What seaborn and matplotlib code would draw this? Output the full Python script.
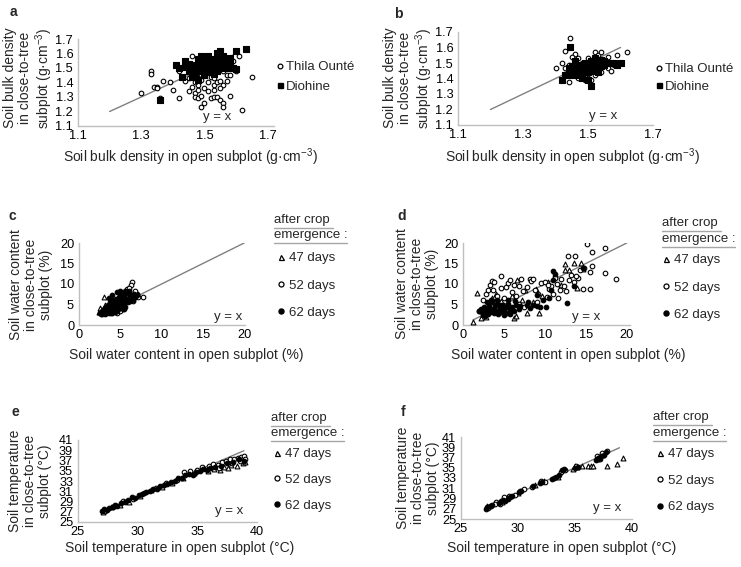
import matplotlib
matplotlib.use("Agg")
import matplotlib.pyplot as plt
import seaborn as sns
from matplotlib.lines import Line2D

# ---------------- data ----------------
# Panel a : soil bulk density (open vs close-to-tree)
a_thila = [(1.30,1.33),(1.33,1.48),(1.33,1.46),(1.34,1.37),(1.35,1.37),(1.35,1.36),(1.37,1.41),
           (1.36,1.29),(1.39,1.40),(1.40,1.35),(1.42,1.29),(1.42,1.48),(1.44,1.41),(1.45,1.43),
           (1.46,1.58),(1.46,1.37),(1.45,1.34),(1.47,1.33),(1.47,1.30),(1.48,1.38),(1.48,1.35),
           (1.48,1.29),(1.49,1.31),(1.50,1.36),(1.49,1.45),(1.47,1.45),(1.49,1.23),(1.50,1.26),
           (1.52,1.29),(1.53,1.30),(1.54,1.30),(1.55,1.28),(1.56,1.26),(1.56,1.23),(1.52,1.44),
           (1.53,1.38),(1.54,1.40),(1.55,1.41),(1.56,1.38),(1.53,1.35),(1.57,1.45),(1.58,1.45),
           (1.58,1.31),(1.61,1.58),(1.62,1.21),(1.65,1.44),(1.59,1.55),(1.60,1.48),(1.58,1.50),
           (1.52,1.50),(1.50,1.47),(1.55,1.52),(1.56,1.48),(1.54,1.56),(1.57,1.55),(1.51,1.40),
           (1.49,1.42),(1.53,1.43),(1.47,1.40),(1.48,1.43),(1.51,1.34),(1.55,1.36),(1.46,1.47),
           (1.57,1.41)]
a_diohine = [(1.41,1.52),(1.42,1.50),(1.43,1.44),(1.44,1.55),(1.45,1.53),(1.45,1.48),(1.46,1.50),
             (1.47,1.52),(1.47,1.46),(1.48,1.48),(1.48,1.56),(1.49,1.53),(1.49,1.50),(1.50,1.47),
             (1.50,1.55),(1.51,1.52),(1.51,1.58),(1.52,1.55),(1.52,1.50),(1.53,1.56),(1.53,1.52),
             (1.54,1.60),(1.54,1.54),(1.55,1.57),(1.55,1.50),(1.56,1.55),(1.56,1.58),(1.57,1.54),
             (1.58,1.57),(1.59,1.50),(1.60,1.62),(1.63,1.63),(1.58,1.55),(1.55,1.62),(1.36,1.28),
             (1.46,1.44),(1.48,1.42),(1.50,1.45),(1.52,1.47),(1.54,1.48),(1.44,1.51),(1.57,1.50),
             (1.60,1.49),(1.53,1.46),(1.49,1.58)]

# Panel b : soil bulk density, second sampling
b_thila = [(1.40,1.47),(1.42,1.50),(1.43,1.47),(1.43,1.58),(1.44,1.38),(1.445,1.66),(1.46,1.56),
           (1.46,1.52),(1.45,1.45),(1.47,1.40),(1.48,1.40),(1.49,1.42),(1.48,1.50),(1.50,1.46),
           (1.52,1.57),(1.53,1.55),(1.54,1.57),(1.54,1.44),(1.56,1.47),(1.57,1.45),(1.59,1.55),
           (1.59,1.50),(1.62,1.57),(1.50,1.53),(1.51,1.49),(1.52,1.42),(1.47,1.47),(1.46,1.43),
           (1.44,1.49),(1.55,1.51),(1.58,1.49),(1.51,1.39),(1.49,1.39),(1.53,1.45),(1.50,1.40),
           (1.45,1.54),(1.52,1.52),(1.47,1.53),(1.43,1.43),(1.56,1.54)]
b_diohine = [(1.42,1.39),(1.43,1.42),(1.44,1.47),(1.445,1.60),(1.45,1.48),(1.46,1.45),(1.47,1.49),
             (1.48,1.47),(1.48,1.44),(1.49,1.50),(1.49,1.46),(1.50,1.48),(1.50,1.44),(1.51,1.51),
             (1.51,1.47),(1.52,1.49),(1.52,1.45),(1.53,1.50),(1.53,1.47),(1.54,1.52),(1.54,1.48),
             (1.55,1.49),(1.56,1.50),(1.57,1.50),(1.58,1.50),(1.59,1.49),(1.60,1.50),(1.51,1.35),
             (1.50,1.39),(1.48,1.40),(1.46,1.51),(1.47,1.42),(1.52,1.53),(1.55,1.51),(1.53,1.44),
             (1.45,1.42)]

# Panel c : soil water content (%), first site
c_47 = [(3.0,6.9),(2.4,3.2),(2.6,4.2),(3.2,5.0),(3.7,4.6),(4.3,5.4),(4.9,5.5),(5.5,6.5),
        (6.2,7.2),(3.5,3.4),(4.1,3.8),(5.2,5.0),(6.4,6.5),(2.9,3.0)]
c_52 = [(6.4,10.6),(6.3,9.8),(7.8,6.9),(7.0,7.6),(6.8,8.2),(5.8,8.8),(3.3,2.9),(4.6,3.0),
        (5.5,3.8),(6.5,5.8),(2.8,2.6),(7.2,6.8),(6.0,9.0),(4.0,2.9),(5.0,3.4)]
c_62 = [(2.5,3.0),(2.8,3.5),(3.0,4.0),(3.2,3.2),(3.3,4.5),(3.5,3.8),(3.5,5.0),(3.6,3.0),(3.8,4.2),
        (3.8,5.5),(4.0,3.5),(4.0,4.8),(4.1,6.0),(4.2,4.0),(4.3,5.2),(4.4,3.2),(4.5,4.5),(4.5,6.3),
        (4.6,5.5),(4.7,3.8),(4.8,5.0),(4.9,6.8),(5.0,4.2),(5.0,5.8),(5.1,7.5),(5.2,4.8),(5.3,6.2),
        (5.4,5.2),(5.5,7.0),(5.6,4.5),(5.7,6.0),(5.8,7.8),(5.9,5.5),(6.0,6.5),(6.1,8.0),(6.2,5.8),
        (6.3,7.0),(6.5,6.2),(6.6,7.5),(6.8,6.8),(7.0,7.2),(3.9,3.0),(4.6,3.4),(5.3,4.0),(3.1,2.8),
        (2.7,2.6),(3.4,4.2),(4.2,5.6),(5.6,8.2),(6.0,8.4),(5.4,6.8),(4.8,6.2),(4.0,7.2),(4.6,8.0),
        (5.0,8.3),(3.6,6.5)]

# Panel d : soil water content (%), second site
d_47 = [(1.2,0.8),(1.7,7.8),(2.2,1.8),(2.8,2.0),(3.5,6.5),(4.0,7.5),(5.0,5.0),(6.2,1.8),(6.0,7.0),
        (7.2,6.0),(7.8,3.0),(8.5,5.5),(9.6,7.0),(10.4,10.5),(11.2,12.5),(12.4,15.0),(12.4,13.5),
        (13.0,13.5),(13.5,15.1),(14.4,15.1),(14.6,13.7),(13.9,9.0),(7.6,8.6),(8.9,8.8),(6.5,2.1),
        (5.4,4.6),(12.0,9.8),(4.6,5.9),(9.3,3.0),(6.6,11.0)]
d_52 = [(2.0,3.5),(2.5,6.0),(2.8,7.5),(3.0,8.5),(3.3,9.8),(3.5,10.8),(3.7,8.6),(3.8,10.5),(4.2,7.0),
        (4.6,12.0),(4.6,9.0),(5.0,6.5),(5.2,9.2),(5.5,10.2),(5.7,11.0),(6.0,8.0),(6.2,9.7),(6.5,7.0),
        (6.8,9.6),(7.1,11.2),(7.3,8.2),(7.8,9.2),(8.2,11.2),(8.3,10.7),(8.6,11.1),(8.8,8.5),
        (9.2,7.5),(9.5,10.3),(10.0,10.5),(10.2,6.8),(10.5,8.8),(10.8,9.6),(11.0,7.5),(11.2,11.5),
        (11.5,10.0),(11.8,8.6),(12.0,11.2),(12.3,9.5),(12.6,8.2),(13.0,11.0),(13.2,12.2),
        (13.5,10.5),(13.7,16.8),(14.0,11.5),(14.3,13.5),(14.6,8.8),(15.2,19.8),(15.7,17.8),
        (15.5,13.0),(15.8,14.5),(15.5,8.8),(17.3,18.8),(17.4,12.7),(18.7,11.2),(12.8,16.8),
        (4.8,4.5),(3.2,3.5),(5.8,4.0),(6.8,5.2),(2.6,2.8),(9.0,5.5),(7.5,4.5),(11.6,6.5),
        (13.8,12.0),(14.8,13.8),(10.4,9.8)]
d_62 = [(2.0,3.5),(2.2,4.0),(2.4,2.5),(2.5,3.0),(2.6,4.5),(2.8,3.5),(3.0,2.8),(3.0,4.2),(3.2,5.0),
        (3.3,3.2),(3.5,4.0),(3.6,5.5),(3.8,2.9),(3.9,4.6),(4.0,3.5),(4.2,5.2),(4.3,2.6),(4.5,4.0),
        (4.6,3.2),(4.8,5.0),(5.0,3.6),(5.0,2.5),(5.2,4.4),(5.4,3.0),(5.5,5.2),(5.7,3.8),(5.8,2.8),
        (6.0,4.5),(6.2,3.4),(6.5,5.0),(6.8,3.9),(7.0,4.6),(2.3,3.2),(2.9,5.5),(3.4,6.2),(4.1,6.0),
        (7.8,4.8),(8.2,4.2),(8.6,5.0),(9.0,4.6),(9.4,4.4),(9.8,6.0),(10.1,4.4),(10.5,6.5),
        (11.0,13.2),(11.0,11.0),(11.2,12.5),(12.7,5.4),(10.8,8.5),(9.0,7.3),(14.6,14.0),(13.5,9.5),
        (8.0,5.5),(5.5,6.2),(6.4,5.8),(2.7,2.2),(3.7,3.6),(4.4,4.8)]

# Panel e : soil temperature (deg C), first site
e_47 = [(27.1,27.0),(27.8,27.9),(28.5,28.3),(29.3,29.0),(30.2,30.0),(31.1,31.2),(32.0,31.8),
        (32.9,32.7),(33.8,33.5),(34.7,34.6),(35.6,35.5),(36.4,35.4),(37.2,35.8),(37.8,36.2),
        (38.3,36.0),(38.8,36.5),(39.0,36.8),(36.9,35.2),(37.6,35.5),(35.9,34.9)]
e_52 = [(27.3,27.1),(28.0,28.2),(28.8,29.1),(29.6,29.5),(30.5,30.6),(31.5,31.7),(32.4,32.6),
        (33.3,33.2),(33.9,34.8),(34.4,34.9),(35.0,35.2),(35.4,35.8),(36.0,36.0),(36.3,36.4),
        (36.7,36.2),(37.1,36.7),(37.4,37.0),(37.7,37.3),(38.1,37.2),(38.4,37.5),(38.7,37.6),
        (38.9,37.8),(39.0,37.2),(36.8,35.6),(37.9,36.6),(38.6,36.9)]
e_62 = [(27.0,27.2),(27.2,27.5),(27.4,27.3),(27.6,27.8),(27.9,28.0),(28.1,28.4),(28.3,28.2),
        (28.6,28.8),(28.9,29.0),(29.2,29.3),(29.5,29.8),(29.8,29.6),(30.1,30.2),(30.4,30.5),
        (30.7,30.9),(31.0,31.0),(31.3,31.4),(31.6,31.5),(31.9,32.0),(32.2,32.3),(32.5,32.4),
        (32.8,32.9),(33.1,33.0),(33.4,33.6),(33.7,33.5),(34.0,34.2),(34.3,34.4),(34.6,34.2),
        (34.9,34.8),(35.2,35.0),(35.5,35.3),(35.8,35.2),(36.1,35.6),(36.5,35.8),(37.0,36.0),
        (37.5,36.5),(38.0,36.8),(38.5,37.2),(38.9,37.0)]

# Panel f : soil temperature (deg C), second site
f_47 = [(27.3,27.6),(28.6,28.3),(29.0,29.1),(30.0,30.0),(31.5,31.6),(32.3,32.4),(33.5,33.2),
        (34.8,34.8),(35.0,35.4),(35.2,35.1),(35.6,35.3),(36.1,35.4),(36.4,35.3),(36.6,35.3),
        (37.8,35.4),(38.7,35.8),(39.2,36.9),(36.9,36.8),(37.4,37.4)]
f_52 = [(27.4,27.2),(27.6,27.5),(28.1,28.3),(28.4,28.0),(28.8,29.2),(29.2,29.4),(29.7,29.6),
        (30.2,30.5),(30.5,30.8),(31.2,31.2),(32.0,32.5),(32.4,32.2),(33.2,33.0),(33.8,34.2),
        (34.1,34.6),(35.1,35.4),(36.9,37.2),(37.4,37.8),(37.8,38.3),(37.1,36.9),(28.0,27.9)]
f_62 = [(27.2,27.0),(27.3,27.4),(27.5,27.6),(27.7,27.8),(28.3,28.2),(28.5,28.5),(28.7,28.8),
        (28.9,28.6),(29.1,29.0),(29.3,29.3),(29.5,29.4),(30.1,30.2),(30.3,30.4),(31.3,31.4),
        (31.9,32.1),(32.1,32.3),(33.0,32.8),(33.3,33.2),(33.6,33.6),(33.9,34.5),(34.0,34.8),
        (35.0,35.0),(35.3,35.2),(36.8,36.6),(37.0,37.0),(37.3,37.2),(37.5,37.5),(37.7,38.0),
        (37.2,36.8)]

# 1:1 reference line extents
line_a = [1.2, 1.6]
line_b = [1.2, 1.6]
line_c = [2.3, 20]
line_d = [1.2, 20]
line_e = [27.0, 38.9]
line_f = [27.1, 38.9]

bd_ticks_x = [1.1, 1.3, 1.5, 1.7]
bd_ticks_y = [1.1, 1.2, 1.3, 1.4, 1.5, 1.6, 1.7]
swc_ticks = [0, 5, 10, 15, 20]
temp_ticks_x = [25, 30, 35, 40]
temp_ticks_y = [25, 27, 29, 31, 33, 35, 37, 39, 41]

site_labels = ["Thila Ounté", "Diohine"]
day_labels = ["47 days", "52 days", "62 days"]

# ---------------- style ----------------
sns.set_style("white")
plt.rcParams["font.family"] = ["Liberation Sans", "DejaVu Sans"]
plt.rcParams["mathtext.fontset"] = "custom"
plt.rcParams["mathtext.rm"] = "Liberation Sans"
plt.rcParams["mathtext.it"] = "Liberation Sans:italic"
plt.rcParams["mathtext.bf"] = "Liberation Sans:bold"
plt.rcParams["mathtext.default"] = "regular"

W, H = 741, 567
fig = plt.figure(figsize=(W / 100, H / 100), dpi=100)


def fx(px):
    return px / W


def fy(py):
    return 1 - py / H


def make_axes(left, right, top, bottom):
    return fig.add_axes([fx(left), fy(bottom), (right - left) / W, (bottom - top) / H])


SPINE = "#bfbfbf"
LINEC = "#808080"
TICK_FS = 9.2


def style_axes(ax, xlim, ylim, xt, yt, xfmt, yfmt):
    ax.set_xlim(*xlim)
    ax.set_ylim(*ylim)
    ax.set_xticks(xt)
    ax.set_yticks(yt)
    ax.set_xticklabels([xfmt.format(v) for v in xt])
    ax.set_yticklabels([yfmt.format(v) for v in yt])
    for s in ["top", "right"]:
        ax.spines[s].set_visible(False)
    for s in ["left", "bottom"]:
        ax.spines[s].set_color(SPINE)
        ax.spines[s].set_linewidth(1.0)
    ax.tick_params(axis="both", length=0, labelsize=TICK_FS, colors="black")
    ax.tick_params(axis="y", pad=3.5)
    ax.tick_params(axis="x", pad=3)
    ax.set_facecolor("none")


def scatter(ax, pts, marker, face, size):
    xs = [p[0] for p in pts]
    ys = [p[1] for p in pts]
    sns.scatterplot(x=xs, y=ys, ax=ax, marker=marker, s=size, color=face,
                    edgecolor="black", linewidth=0.8, legend=False, zorder=3)


def one_to_one(ax, ext):
    sns.lineplot(x=ext, y=ext, ax=ax, color=LINEC, linewidth=1.0, zorder=2)


def labels(ax, xlabel, xc, yl_text, yc):
    ax.set_xlabel(xlabel, fontsize=10)
    ax.xaxis.set_label_coords(fx(xc[0]), fy(xc[1]), transform=fig.transFigure)
    ax.xaxis.label.set_verticalalignment("center")
    ax.set_ylabel(yl_text, fontsize=10, linespacing=1.1)
    ax.yaxis.set_label_coords(fx(yc[0]), fy(yc[1]), transform=fig.transFigure)
    ax.yaxis.label.set_verticalalignment("center")
    ax.yaxis.label.set_horizontalalignment("center")


def site_legend(ax, left_px, top_px, spacing):
    h = [Line2D([], [], linestyle="none", marker="o", markersize=3.4, markerfacecolor="white",
                markeredgecolor="black", markeredgewidth=0.9),
         Line2D([], [], linestyle="none", marker="s", markersize=3.6, markerfacecolor="black",
                markeredgecolor="black")]
    ax.legend(h, site_labels, loc="upper left", bbox_to_anchor=(fx(left_px), fy(top_px)),
              bbox_transform=fig.transFigure, frameon=False, fontsize=9.5, borderpad=0,
              borderaxespad=0, handlelength=0.5, handletextpad=0.2, labelspacing=spacing)


def day_legend(ax, left_px, top_px, head_x, head_y1, head_y2, spacing=1.0):
    h = [Line2D([], [], linestyle="none", marker="^", markersize=3.6, markerfacecolor="white",
                markeredgecolor="black", markeredgewidth=0.9),
         Line2D([], [], linestyle="none", marker="o", markersize=3.6, markerfacecolor="white",
                markeredgecolor="black", markeredgewidth=0.9),
         Line2D([], [], linestyle="none", marker="o", markersize=3.6, markerfacecolor="black",
                markeredgecolor="black")]
    ax.legend(h, day_labels, loc="upper left", bbox_to_anchor=(fx(left_px), fy(top_px)),
              bbox_transform=fig.transFigure, frameon=False, fontsize=9.5, borderpad=0,
              borderaxespad=0, handlelength=0.6, handletextpad=0.3, labelspacing=spacing)
    fig.text(fx(head_x), fy(head_y1), "after crop", fontsize=9.5, va="center", ha="left")
    fig.text(fx(head_x), fy(head_y2), "emergence :", fontsize=9.5, va="center", ha="left")
    fig.add_artist(Line2D([fx(head_x), fx(head_x + 59)], [fy(head_y1 + 7.5)] * 2,
                          transform=fig.transFigure, color="#a6a6a6", linewidth=1.0))
    fig.add_artist(Line2D([fx(head_x), fx(head_x + 73)], [fy(head_y2 + 7.5)] * 2,
                          transform=fig.transFigure, color="#a6a6a6", linewidth=1.0))


S_CIRC = 11
S_SQ = 13
S_TRI = 12

BD_X = "Soil bulk density in open subplot (g·cm$^{-3}$)"
BD_Y = "Soil bulk density\nin close-to-tree\nsubplot (g·cm$^{-3}$)"

# ---------- panel a ----------
ax = make_axes(78, 274, 39, 126)
style_axes(ax, (1.1, 1.72), (1.1, 1.7), bd_ticks_x, bd_ticks_y, "{:.1f}", "{:.1f}")
one_to_one(ax, line_a)
scatter(ax, a_thila, "o", "white", S_CIRC)
scatter(ax, a_diohine, "s", "black", S_SQ)
ax.text(1.54, 1.165, "y = x", fontsize=9.5, ha="center", va="center", zorder=4)
labels(ax, BD_X, (190, 157), BD_Y, (29, 78))
site_legend(ax, 277, 61, 0.55)

# ---------- panel b ----------
ax = make_axes(458, 653, 32, 125)
style_axes(ax, (1.1, 1.7), (1.1, 1.7), bd_ticks_x, bd_ticks_y, "{:.1f}", "{:.1f}")
one_to_one(ax, line_b)
scatter(ax, b_thila, "o", "white", S_CIRC)
scatter(ax, b_diohine, "s", "black", S_SQ)
ax.text(1.546, 1.16, "y = x", fontsize=9.5, ha="center", va="center", zorder=4)
labels(ax, BD_X, (572, 157), BD_Y, (409, 78))
site_legend(ax, 656, 63, 0.4)

# ---------- panel c ----------
ax = make_axes(79, 245, 243, 325)
style_axes(ax, (0, 20.1), (0, 20), swc_ticks, swc_ticks, "{:d}", "{:d}")
one_to_one(ax, line_c)
scatter(ax, c_47, "^", "white", S_TRI)
scatter(ax, c_52, "o", "white", S_CIRC)
scatter(ax, c_62, "o", "black", S_CIRC)
ax.text(18.0, 2.0, "y = x", fontsize=9.5, ha="center", va="center", zorder=4)
labels(ax, "Soil water content in open subplot (%)", (186, 355),
       "Soil water content\nin close-to-tree\nsubplot (%)", (31, 285))
day_legend(ax, 277, 252, 274, 220, 235, spacing=1.14)

# ---------- panel d ----------
ax = make_axes(463, 630, 243, 325)
style_axes(ax, (0, 20.4), (0, 20), swc_ticks, swc_ticks, "{:d}", "{:d}")
one_to_one(ax, line_d)
scatter(ax, d_47, "^", "white", S_TRI)
scatter(ax, d_52, "o", "white", S_CIRC)
scatter(ax, d_62, "o", "black", S_CIRC)
ax.text(15.1, 2.0, "y = x", fontsize=9.5, ha="center", va="center", zorder=4)
labels(ax, "Soil water content in open subplot (%)", (568, 355),
       "Soil water content\nin close-to-tree\nsubplot (%)", (417, 284))
day_legend(ax, 662, 254, 662, 223, 239, spacing=1.14)

# ---------- panel e ----------
ax = make_axes(78, 257, 440, 522)
style_axes(ax, (25, 40), (25, 41), temp_ticks_x, temp_ticks_y, "{:d}", "{:d}")
one_to_one(ax, line_e)
scatter(ax, e_47, "^", "white", S_TRI)
scatter(ax, e_52, "o", "white", S_CIRC)
scatter(ax, e_62, "o", "black", S_CIRC)
ax.text(37.7, 27.1, "y = x", fontsize=9.5, ha="center", va="center", zorder=4)
labels(ax, "Soil temperature in open subplot (°C)", (180, 548),
       "Soil temperature\nin close-to-tree\nsubplot (°C)", (30, 481))
day_legend(ax, 273, 448, 271, 418, 433, spacing=1.02)

# ---------- panel f ----------
ax = make_axes(461, 632, 437, 519)
style_axes(ax, (25, 40), (25, 41), temp_ticks_x, temp_ticks_y, "{:d}", "{:d}")
one_to_one(ax, line_f)
scatter(ax, f_47, "^", "white", S_TRI)
scatter(ax, f_52, "o", "white", S_CIRC)
scatter(ax, f_62, "o", "black", S_CIRC)
ax.text(37.8, 27.1, "y = x", fontsize=9.5, ha="center", va="center", zorder=4)
labels(ax, "Soil temperature in open subplot (°C)", (562, 548),
       "Soil temperature\nin close-to-tree\nsubplot (°C)", (418, 478))
day_legend(ax, 656, 448, 653, 417, 433, spacing=1.09)

# panel letters
for letter, (px, py) in zip("abcdef", [(13, 12), (398, 14), (12, 216), (402, 216), (15, 412), (403, 412)]):
    fig.text(fx(px), fy(py), letter, fontsize=10, fontweight="bold", ha="center", va="center")

fig.savefig("out.png", dpi=100, facecolor="white")
